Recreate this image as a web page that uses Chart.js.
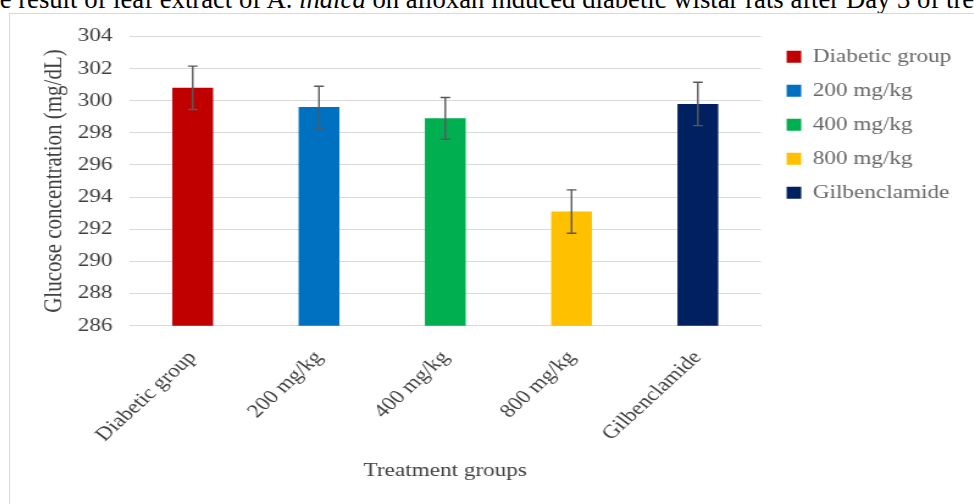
<!DOCTYPE html>
<html>
<head>
<meta charset="utf-8">
<script src="https://cdn.jsdelivr.net/npm/chart.js@4.4.1/dist/chart.umd.min.js"></script>
<style>
    html, body { margin: 0; padding: 0; background: #fff; overflow: hidden; }
    body { width: 974px; height: 504px; position: relative; }
    .caption {
        position: absolute; left: -30px; top: -14px;
        font: 26.7px/27px "Liberation Serif", "Times New Roman", serif;
        color: #000; white-space: nowrap;
    }
    .frame {
        position: absolute; left: 9px; top: 13px; width: 1000px; height: 520px;
        border: 1px solid #d9d9d9; background: #fff;
    }
    /* the source figure is stretched sideways, so the whole chart is too */
    .chart-box {
        position: absolute; left: 10px; top: 11px; width: 790px; height: 493px;
        transform: scaleX(1.22); transform-origin: 0 0;
    }
</style>
</head>
<body>
<div class="caption">The result of leaf extract of A. <i>indica</i> on alloxan induced diabetic wistar rats after Day 3 of treatment</div>
<div class="frame"></div>
<div class="chart-box"><canvas id="glucoseChart"></canvas></div>
<script>
const chartEl = document.getElementById("glucoseChart");

const groups = ["Diabetic group", "200 mg/kg", "400 mg/kg", "800 mg/kg", "Gilbenclamide"];
const glucoseMeans = [300.8, 299.6, 298.9, 293.1, 299.8];
const glucoseErrors = [1.35, 1.3, 1.3, 1.35, 1.35];
const barColors = ["#c00000", "#0070c0", "#00b050", "#ffc000", "#002060"];

const serif = "'Liberation Serif', 'Times New Roman', serif";
const textColor = "#404040";

// whiskers drawn from the same arrays, through the chart's y scale
const errorBarsPlugin = {
    id: "errorBars",
    afterDatasetsDraw(chart) {
        const { ctx, scales: { y } } = chart;
        const meta = chart.getDatasetMeta(0);
        ctx.save();
        ctx.strokeStyle = "#595959";
        ctx.lineWidth = 1.4;
        meta.data.forEach((bar, i) => {
            const top = y.getPixelForValue(glucoseMeans[i] + glucoseErrors[i]);
            const bottom = y.getPixelForValue(glucoseMeans[i] - glucoseErrors[i]);
            const x = bar.x;
            ctx.beginPath();
            ctx.moveTo(x, top);
            ctx.lineTo(x, bottom);
            ctx.moveTo(x - 4, top);
            ctx.lineTo(x + 4, top);
            ctx.moveTo(x - 4, bottom);
            ctx.lineTo(x + 4, bottom);
            ctx.stroke();
        });
        ctx.restore();
    }
};

new Chart(chartEl, {
    type: "bar",
    data: {
        labels: groups,
        datasets: [{
            label: "Glucose",
            data: glucoseMeans,
            backgroundColor: barColors,
            borderWidth: 0,
            categoryPercentage: 1,
            barPercentage: 0.323
        }]
    },
    plugins: [errorBarsPlugin],
    options: {
        responsive: true,
        maintainAspectRatio: false,
        animation: false,
        layout: { padding: { top: -1, right: 8.5, left: 24, bottom: 18 } },
        plugins: {
            tooltip: { enabled: false },
            legend: {
                position: "right",
                align: "start",
                maxWidth: 220,
                title: { display: true, text: " ", font: { size: 1 }, padding: { top: 0, bottom: 21 } },
                labels: {
                    boxWidth: 12,
                    boxHeight: 12,
                    padding: 15,
                    color: textColor,
                    font: { family: serif, size: 19 },
                    generateLabels: () => groups.map((g, i) => ({
                        text: g,
                        fillStyle: barColors[i],
                        strokeStyle: barColors[i],
                        lineWidth: 0,
                        hidden: false,
                        index: i
                    }))
                },
                onClick: () => {}
            }
        },
        scales: {
            x: {
                grid: { display: false },
                border: { color: "#d9d9d9" },
                ticks: {
                    color: textColor,
                    font: { family: serif, size: 19 },
                    maxRotation: 48,
                    minRotation: 48,
                    padding: 13
                },
                title: {
                    display: true,
                    text: "Treatment groups",
                    color: textColor,
                    font: { family: serif, size: 19 },
                    padding: { top: 0 }
                }
            },
            y: {
                min: 286,
                max: 304,
                grid: { color: "#d9d9d9", drawTicks: false },
                border: { display: false },
                ticks: {
                    stepSize: 2,
                    color: textColor,
                    font: { family: serif, size: 19 },
                    padding: 14
                },
                title: {
                    display: true,
                    text: "Glucose concentration (mg/dL)",
                    color: textColor,
                    font: { family: serif, size: 21 },
                    padding: { top: 0, bottom: 8 }
                },
                afterFit: scale => { scale.width = 74; }
            },
            // empty spacer between the plot and the legend
            gap: {
                type: "linear",
                position: "right",
                grid: { display: false },
                border: { display: false },
                ticks: { display: false },
                afterFit: scale => { scale.width = 6; }
            }
        }
    }
});
</script>
</body>
</html>
